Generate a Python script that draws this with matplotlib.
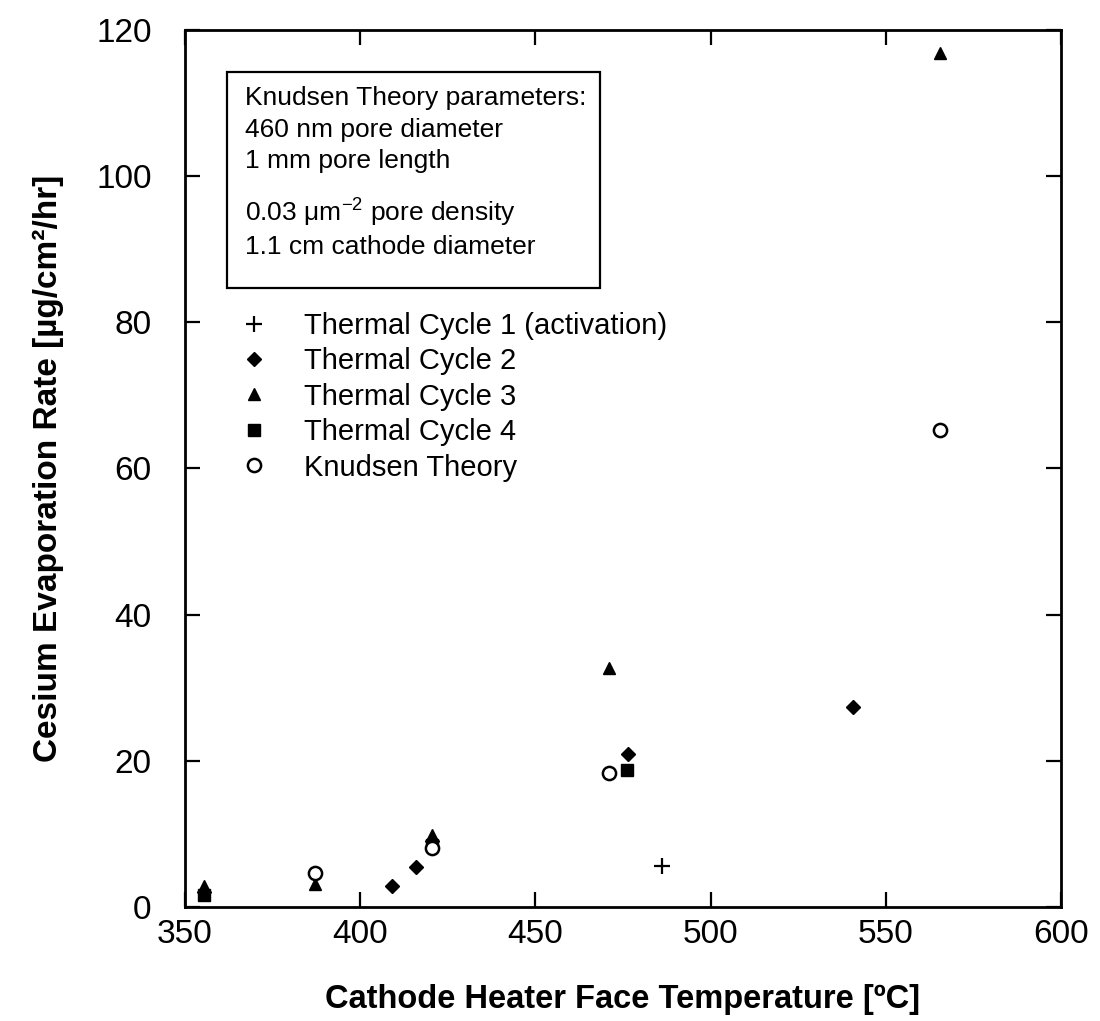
#!/usr/bin/python3

import matplotlib
matplotlib.use('Agg')
import matplotlib.pyplot as plt
from matplotlib.patches import Rectangle

plt.rcParams['font.family'] = ['Liberation Sans', 'DejaVu Sans']
plt.rcParams['mathtext.fontset'] = 'custom'
plt.rcParams['mathtext.rm'] = 'Liberation Sans'
plt.rcParams['mathtext.it'] = 'Liberation Sans:italic'
plt.rcParams['mathtext.bf'] = 'Liberation Sans:bold'

# data
cycle1_t = [486]
cycle1_r = [5.6]

cycle2_t = [355.5, 409, 416, 420.5, 476.5, 540.5]
cycle2_r = [2.0, 2.9, 5.5, 9.0, 20.9, 27.4]

cycle3_t = [355.5, 387, 420.5, 471, 565.5]
cycle3_r = [2.8, 3.1, 9.8, 32.7, 116.8]

cycle4_t = [355.5, 420.5, 476]
cycle4_r = [1.6, 8.5, 18.7]

knudsen_t = [387, 420.5, 471, 565.5]
knudsen_r = [4.6, 8.0, 18.3, 65.3]

labels = ['Thermal Cycle 1 (activation)', 'Thermal Cycle 2', 'Thermal Cycle 3',
          'Thermal Cycle 4', 'Knudsen Theory']

box_lines = ['Knudsen Theory parameters:', '460 nm pore diameter', '1 mm pore length',
             r'0.03 $\mathrm{\mu}$m$^{-2}$ pore density', '1.1 cm cathode diameter']


def draw_plot():
    fig = plt.figure(figsize=(11, 10.21), dpi=100)
    ax = fig.add_axes([0.1682, 0.1117, 0.7964, 0.8589])

    ax.plot(cycle1_t, cycle1_r, linestyle='none', marker='+', ms=12, mew=1.6, color='black', label=labels[0])
    ax.plot(cycle2_t, cycle2_r, linestyle='none', marker='D', ms=7.5, color='black', label=labels[1])
    ax.plot(cycle3_t, cycle3_r, linestyle='none', marker='^', ms=9, color='black', label=labels[2])
    ax.plot(cycle4_t, cycle4_r, linestyle='none', marker='s', ms=8.5, color='black', label=labels[3])
    ax.plot(knudsen_t, knudsen_r, linestyle='none', marker='o', ms=9.5, mew=1.8, mfc='white',
            color='black', label=labels[4])

    ax.set_xlim(350, 600)
    ax.set_ylim(0, 120)
    ax.set_xticks([350, 400, 450, 500, 550, 600])
    ax.set_yticks([0, 20, 40, 60, 80, 100, 120])
    ax.tick_params(direction='in', top=True, right=True, length=11, width=1.6, labelsize=24)
    ax.tick_params(axis='x', pad=9)
    ax.tick_params(axis='y', pad=24)
    for sp in ax.spines.values():
        sp.set_linewidth(2)

    ax.set_xlabel('Cathode Heater Face Temperature [ºC]', fontsize=23.5, fontweight='bold', labelpad=24)
    ax.set_ylabel('Cesium Evaporation Rate [µg/cm²/hr]', fontsize=24, fontweight='bold', labelpad=23)

    # parameter box
    ax.add_patch(Rectangle((0.048, 0.706), 0.426, 0.246, transform=ax.transAxes,
                           fill=False, edgecolor='black', linewidth=1.6))
    ys = [0.922, 0.886, 0.851, 0.792, 0.752]
    for y, t in zip(ys, box_lines):
        ax.text(0.068, y, t, transform=ax.transAxes, fontsize=19, va='center', ha='left')

    ax.legend(loc='upper left', bbox_to_anchor=(0.051, 0.692), frameon=False, fontsize=21,
              handlelength=0.9, handletextpad=1.25, labelspacing=0.255, borderaxespad=0)

    fig.savefig('out.png', dpi=100)


draw_plot()
